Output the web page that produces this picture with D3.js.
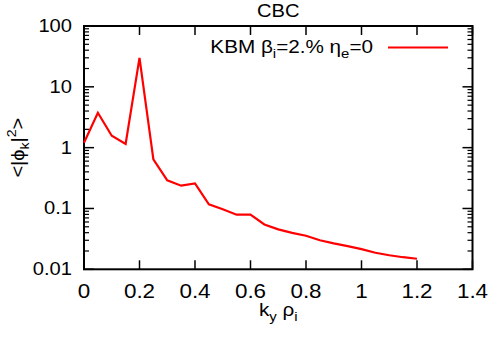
<!DOCTYPE html>
<html>
<head>
<meta charset="utf-8">
<script src="https://cdn.jsdelivr.net/npm/d3@7"></script>
<style>
  html, body { margin: 0; padding: 0; background: #fff; }
  svg { display: block; }
  text { font-family: "Liberation Sans", Arial, sans-serif; fill: #000; }
</style>
</head>
<body>
<div id="chart"></div>
<script>
const kyRho = [0, 0.05, 0.1, 0.15, 0.2, 0.25, 0.3, 0.35, 0.4, 0.45, 0.5, 0.55, 0.6,
               0.65, 0.7, 0.75, 0.8, 0.85, 0.9, 0.95, 1.0, 1.05, 1.1, 1.15, 1.2];
const phiK2 = [1.2, 3.75, 1.57, 1.15, 30, 0.64, 0.29, 0.237, 0.258, 0.117, 0.097, 0.079, 0.079,
               0.0547, 0.0453, 0.0398, 0.0356, 0.030, 0.0267, 0.0241, 0.0215, 0.0187, 0.017, 0.0158, 0.0149];
const xTicks = [0, 0.2, 0.4, 0.6, 0.8, 1, 1.2, 1.4];
const xTickLabels = ["0", "0.2", "0.4", "0.6", "0.8", "1", "1.2", "1.4"];
const yTicks = [0.01, 0.1, 1, 10, 100];
const yTickLabels = ["0.01", "0.1", "1", "10", "100"];
const titleText = "CBC";
const seriesName = "KBM";

const W = 491, H = 342;
const m = { left: 84, right: W - 472.5, top: 26, bottom: H - 269.3 };
const SX = 1.15; // horizontal stretch of text

const svg = d3.select("#chart").append("svg").attr("width", W).attr("height", H);

const x = d3.scaleLinear().domain([0, 1.4]).range([m.left, W - m.right]);
const y = d3.scaleLog().domain([0.01, 100]).range([H - m.bottom, m.top]);

function label(g, tx, ty, anchor, size) {
  return g.append("text")
    .attr("transform", `translate(${tx},${ty}) scale(${SX},1)`)
    .attr("text-anchor", anchor)
    .style("font-size", size + "px");
}

// minor ticks for log axis
const minor = [];
for (let d = 0.01; d < 100; d *= 10) for (let k = 2; k <= 9; k++) minor.push(d * k);

const axes = svg.append("g");
const x0 = x.range()[0], x1 = x.range()[1], y0 = y.range()[0], y1 = y.range()[1];

// x ticks (bottom and top), major only
xTicks.forEach(v => {
  axes.append("line").attr("x1", x(v)).attr("x2", x(v)).attr("y1", y0).attr("y2", y0 - 9)
    .attr("stroke", "#000").attr("stroke-width", 1.5);
  axes.append("line").attr("x1", x(v)).attr("x2", x(v)).attr("y1", y1).attr("y2", y1 + 9)
    .attr("stroke", "#000").attr("stroke-width", 1.5);
});
// y ticks (left and right)
yTicks.forEach(v => {
  axes.append("line").attr("x1", x0).attr("x2", x0 + 10).attr("y1", y(v)).attr("y2", y(v))
    .attr("stroke", "#000").attr("stroke-width", 1.5);
  axes.append("line").attr("x1", x1).attr("x2", x1 - 10).attr("y1", y(v)).attr("y2", y(v))
    .attr("stroke", "#000").attr("stroke-width", 1.5);
});
minor.forEach(v => {
  axes.append("line").attr("x1", x0).attr("x2", x0 + 5).attr("y1", y(v)).attr("y2", y(v))
    .attr("stroke", "#000").attr("stroke-width", 1.2);
  axes.append("line").attr("x1", x1).attr("x2", x1 - 5).attr("y1", y(v)).attr("y2", y(v))
    .attr("stroke", "#000").attr("stroke-width", 1.2);
});

// frame
axes.append("rect").attr("x", x0).attr("y", y1).attr("width", x1 - x0).attr("height", y0 - y1)
  .attr("fill", "none").attr("stroke", "#000").attr("stroke-width", 2);

// tick labels
xTicks.forEach((v, i) => {
  label(svg, x(v), 298, "middle", 19.5).text(xTickLabels[i]);
});
yTicks.forEach((v, i) => {
  label(svg, 72, y(v) + 6, "end", 17.5).text(yTickLabels[i]);
});

// data line
const line = d3.line().x((d, i) => x(kyRho[i])).y(d => y(d));
svg.append("path").datum(phiK2)
  .attr("d", line)
  .attr("fill", "none").attr("stroke", "#ff0000").attr("stroke-width", 2.2)
  .attr("stroke-linejoin", "miter").attr("stroke-miterlimit", 3);

// title
label(svg, (x0 + x1) / 2, 17, "middle", 17.5).text(titleText);

// x label
const xl = label(svg, (x0 + x1) / 2, 316, "middle", 18);
xl.append("tspan").text("k");
xl.append("tspan").attr("dy", 5).style("font-size", "13px").text("y");
xl.append("tspan").attr("dy", -5).text(" ρ");
xl.append("tspan").attr("dy", 5).style("font-size", "13px").text("i");

// y label
const yl = svg.append("text")
  .attr("transform", `translate(24,${(y0 + y1) / 2}) rotate(-90) scale(1.05,1)`)
  .attr("text-anchor", "middle")
  .style("font-size", "19px");
yl.append("tspan").text("<|ϕ");
yl.append("tspan").attr("dy", 5).style("font-size", "13.5px").text("k");
yl.append("tspan").attr("dy", -5).text("|");
yl.append("tspan").attr("dy", -8).style("font-size", "13.5px").text("2");
yl.append("tspan").attr("dy", 8).text(">");

// legend
const lg = label(svg, 373, 53, "end", 18);
lg.append("tspan").text(seriesName + " β");
lg.append("tspan").attr("dy", 5).style("font-size", "13px").text("i");
lg.append("tspan").attr("dy", -5).text("=2.% η");
lg.append("tspan").attr("dy", 5).style("font-size", "13px").text("e");
lg.append("tspan").attr("dy", -5).text("=0");
svg.append("line").attr("x1", 388).attr("x2", 448).attr("y1", 47.5).attr("y2", 47.5)
  .attr("stroke", "#ff0000").attr("stroke-width", 2.2);
</script>
</body>
</html>
